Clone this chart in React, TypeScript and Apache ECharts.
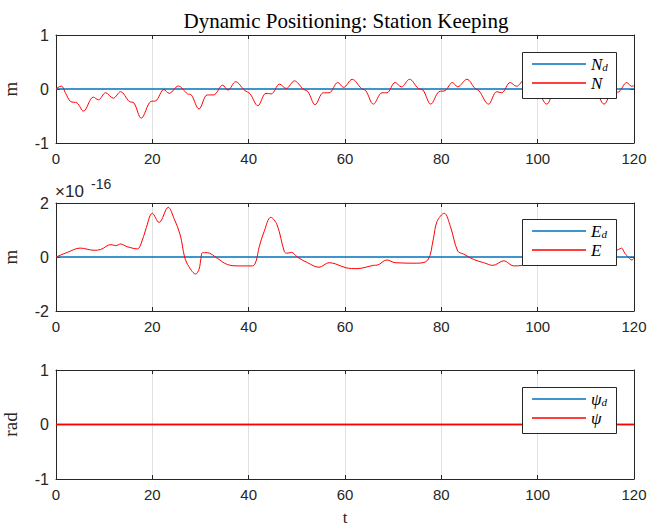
import React, { useEffect, useRef } from "react";
import * as echarts from "echarts";

// ---- data ----
const titleText = "Dynamic Positioning: Station Keeping";
const xTickMin = 0;
const xTickMax = 120;
const xTickStep = 20;

// North position N (m) vs time t (s)
const nTime = [
  0, 1.1, 2.0, 3.0, 4.4, 5.7, 7.75, 8.8, 10.3, 11.9, 13.4, 15.2, 16.2, 17.7, 19.7, 20.7,
  22.4, 23.5, 25.4, 27.3, 28.1, 29.7, 31.4, 32.7, 34.6, 35.7, 37.3, 39.1, 40.3, 41.9,
  43.6, 44.7, 46.4, 47.8, 49.5, 51.3, 52.3, 53.8, 55.5, 56.7, 58.5, 59.7, 61.5, 63.4,
  64.3, 65.9, 67.7, 68.7, 70.4, 71.7, 73.4, 75.2, 76.2, 77.8, 79.5, 80.8, 82.3, 83.4,
  85.3, 87.0, 87.8, 89.8, 91.5, 92.5, 94.3, 95.6, 97.3, 99.1, 100.0, 101.9, 103.6,
  104.6, 106.4, 107.6, 109.4, 111.2, 112.1, 113.8, 115.6, 116.6, 118.5, 119.5, 120,
];
const nValue = [
  0, 0.055, -0.08, -0.23, -0.26, -0.41, -0.15, -0.2, -0.07, -0.17, -0.05, -0.23, -0.26, -0.54, -0.23, -0.22,
  -0.01, -0.08, 0.055, -0.09, -0.11, -0.37, -0.11, -0.11, 0.07, -0.02, 0.135, -0.02, -0.09, -0.31,
  -0.08, -0.09, 0.09, 0.01, 0.15, 0.0, -0.05, -0.29, -0.07, -0.07, 0.12, 0.03, 0.18, 0.01,
  -0.03, -0.28, -0.07, -0.07, 0.12, 0.04, 0.18, 0.01, -0.02, -0.28, -0.05, -0.03, 0.12, 0.04,
  0.18, 0.01, -0.03, -0.28, -0.05, -0.07, 0.12, 0.05, 0.17, 0.01, -0.03, -0.28, -0.05,
  -0.07, 0.12, 0.05, 0.17, 0.01, -0.03, -0.28, -0.05, -0.06, 0.12, 0.05, 0.06,
];
const ndTime = [0, 120];
const ndValue = [0, 0];

// East position E (units of 1e-16 m) vs time t (s)
const eTime = [
  0, 2.35, 5.0, 7.9, 9.3, 11.4, 12.4, 13.4, 14.8, 16.9, 17.7, 18.6, 20.0, 21.4, 23.3, 24.5,
  25.8, 26.7, 27.6, 29.0, 29.7, 30.1, 30.4, 31.4, 33.5, 35.6, 38.0, 40.8, 41.5, 42.2, 43.2,
  44.6, 45.9, 47.4, 47.9, 48.9, 50.1, 52.2, 54.6, 56.7, 58.1, 60.2, 62.5, 65.9, 66.7, 68.7,
  70.4, 74.9, 77.2, 78.3, 79.1, 80.6, 81.9, 83.4, 84.6, 86.7, 88.8, 90.7, 93.0, 95.0, 96.8,
  100, 105, 110, 114, 116.8, 117.4, 118.1, 119.6, 120,
];
const eValue = [
  0, 0.17, 0.33, 0.25, 0.28, 0.46, 0.42, 0.48, 0.38, 0.3, 0.51, 1.0, 1.62, 1.28, 1.84, 1.43,
  0.81, 0.0, -0.36, -0.63, -0.45, -0.05, 0.16, 0.16, -0.05, -0.28, -0.33, -0.33, -0.17, 0.38, 0.94,
  1.47, 1.19, 0.2, 0.14, 0.17, 0.0, -0.21, -0.38, -0.21, -0.26, -0.4, -0.43, -0.31, -0.3, -0.11,
  -0.21, -0.23, -0.11, 0.63, 1.31, 1.62, 1.12, 0.22, 0.11, -0.09, -0.21, -0.31, -0.14, -0.33, -0.31,
  -0.2, -0.1, -0.05, 0.1, 0.28, 0.33, 0.14, -0.11, -0.04,
];
const edTime = [0, 120];
const edValue = [0, 0];

// Heading psi (rad)
const psiTime = [0, 120];
const psiValue = [0, 0];
const psidTime = [0, 120];
const psidValue = [0, 0];

const yLimits = [
  { min: -1, max: 1, interval: 1, name: "m" },
  { min: -2, max: 2, interval: 2, name: "m" },
  { min: -1, max: 1, interval: 1, name: "rad" },
];

const legendNames = [
  ["Nd", "N"],
  ["Ed", "E"],
  ["psid", "psi"],
];
const legendLabels: Record<string, string> = {
  Nd: "{v|N}{s|d}",
  N: "{v|N}",
  Ed: "{v|E}{s|d}",
  E: "{v|E}",
  psid: "{v|ψ}{s|d}",
  psi: "{v|ψ}",
};

const pairs = (t: number[], v: number[]) => t.map((x, i) => [x, v[i]]);

const BLUE = "#0072BD";
const RED = "#FF0000";
const AX = "#262626";
const SANS = "Liberation Sans, Arial, sans-serif";
const SERIF = "Liberation Serif, Times New Roman, serif";

export default function App() {
  const ref = useRef<HTMLDivElement>(null);
  useEffect(() => {
    if (!ref.current) return;
    const chart = echarts.init(ref.current, undefined, { renderer: "svg" });
    const gridTops = [35, 203, 370];
    const gridHeights = [108, 108, 109];
    const grids = gridTops.map((top, i) => ({
      left: 56,
      right: 14,
      top,
      height: gridHeights[i],
      containLabel: false,
      outerBoundsMode: "none",
    }));
    const xAxes: any[] = [];
    const yAxes: any[] = [];
    for (let i = 0; i < 3; i++) {
      xAxes.push({
        type: "value",
        gridIndex: i,
        min: xTickMin,
        max: xTickMax,
        interval: xTickStep,
        position: "bottom",
        axisLine: { show: true, onZero: false, lineStyle: { color: AX, width: 1 } },
        axisTick: { show: true, inside: true, length: 4, lineStyle: { color: AX } },
        axisLabel: { show: true, color: AX, fontFamily: SANS, fontSize: 15, margin: 8 },
        splitLine: { show: true, lineStyle: { color: "#e2e2e2", width: 1 } },
        name: i === 2 ? "t" : "",
        nameLocation: "middle",
        nameGap: 30,
        nameTextStyle: { fontFamily: SERIF, fontSize: 17, color: AX },
      });
    }
    for (let i = 0; i < 3; i++) {
      xAxes.push({
        type: "value",
        gridIndex: i,
        min: xTickMin,
        max: xTickMax,
        interval: xTickStep,
        position: "top",
        axisLine: { show: true, onZero: false, lineStyle: { color: AX, width: 1 } },
        axisTick: { show: true, inside: true, length: 4, lineStyle: { color: AX } },
        axisLabel: { show: false },
        splitLine: { show: false },
      });
    }
    for (let i = 0; i < 3; i++) {
      yAxes.push({
        type: "value",
        gridIndex: i,
        min: yLimits[i].min,
        max: yLimits[i].max,
        interval: yLimits[i].interval,
        position: "left",
        axisLine: { show: true, onZero: false, lineStyle: { color: AX, width: 1 } },
        axisTick: { show: true, inside: true, length: 4, lineStyle: { color: AX } },
        axisLabel: { show: true, color: AX, fontFamily: SANS, fontSize: 16, margin: 7 },
        splitLine: { show: false },
        name: yLimits[i].name,
        nameLocation: "middle",
        nameGap: 36,
        nameRotate: 90,
        nameTextStyle: { fontFamily: SERIF, fontSize: 19, color: AX },
      });
    }
    for (let i = 0; i < 3; i++) {
      yAxes.push({
        type: "value",
        gridIndex: i,
        min: yLimits[i].min,
        max: yLimits[i].max,
        interval: yLimits[i].interval,
        position: "right",
        axisLine: { show: true, onZero: false, lineStyle: { color: AX, width: 1 } },
        axisTick: { show: true, inside: true, length: 4, lineStyle: { color: AX } },
        axisLabel: { show: false },
        splitLine: { show: false },
      });
    }
    const seriesDefs = [
      { name: "Nd", grid: 0, data: pairs(ndTime, ndValue), color: BLUE, width: 1.3 },
      { name: "N", grid: 0, data: pairs(nTime, nValue), color: RED, width: 1 },
      { name: "Ed", grid: 1, data: pairs(edTime, edValue), color: BLUE, width: 1.3 },
      { name: "E", grid: 1, data: pairs(eTime, eValue), color: RED, width: 1 },
      { name: "psid", grid: 2, data: pairs(psidTime, psidValue), color: BLUE, width: 1.3 },
      { name: "psi", grid: 2, data: pairs(psiTime, psiValue), color: RED, width: 1.5 },
    ];
    const series = seriesDefs.map((s, k) => ({
      type: "line",
      name: s.name,
      xAxisIndex: s.grid,
      yAxisIndex: s.grid,
      data: s.data,
      showSymbol: false,
      symbol: "none",
      smooth: s.data.length > 2 ? 0.35 : false,
      lineStyle: { color: s.color, width: s.width },
      itemStyle: { color: s.color },
      z: 2 + (k % 2),
      silent: true,
    }));

    // legends drawn as boxed entries (line sample + italic label)
    const legendTops = [52, 219, 387];
    const legendGraphics: any[] = [];
    legendTops.forEach((top, i) => {
      legendGraphics.push({
        type: "rect",
        shape: { x: 522.5, y: top + 0.5, width: 94, height: 46 },
        style: { fill: "#ffffff", stroke: AX, lineWidth: 1 },
        z: 50,
        silent: true,
      });
      legendNames[i].forEach((name, j) => {
        const cy = top + 12 + j * 19;
        legendGraphics.push({
          type: "line",
          shape: { x1: 532, y1: cy, x2: 586, y2: cy },
          style: { stroke: j === 0 ? BLUE : RED, lineWidth: 1.4 },
          z: 51,
          silent: true,
        });
        legendGraphics.push({
          type: "text",
          x: 591,
          y: cy,
          z: 51,
          silent: true,
          style: {
            text: legendLabels[name],
            verticalAlign: "middle",
            align: "left",
            rich: {
              v: { fontFamily: SERIF, fontStyle: "italic", fontSize: 17, fill: "#000", lineHeight: 16, verticalAlign: "middle" },
              s: { fontFamily: SERIF, fontStyle: "italic", fontSize: 11, fill: "#000", lineHeight: 16, verticalAlign: "bottom" },
            },
          },
        });
      });
    });

    chart.setOption({
      animation: false,
      backgroundColor: "#ffffff",
      title: {
        text: titleText,
        left: 341,
        textAlign: "center",
        top: 5,
        textStyle: { fontFamily: SERIF, fontWeight: "normal", fontSize: 21, color: "#000" },
      },
      grid: grids,
      xAxis: xAxes,
      yAxis: yAxes,
      series,
      graphic: [
        ...legendGraphics,
        {
          type: "text",
          left: 55,
          top: 183,
          style: { text: "×10", fontFamily: SANS, fontSize: 17, fill: AX },
        },
        {
          type: "text",
          left: 91,
          top: 177,
          style: { text: "-16", fontFamily: SANS, fontSize: 14, fill: AX },
        },
      ],
    });
    return () => chart.dispose();
  }, []);
  return (
    <div
      ref={ref}
      style={{ position: "fixed", left: 0, top: 0, width: 648, height: 529, background: "#fff" }}
    />
  );
}
